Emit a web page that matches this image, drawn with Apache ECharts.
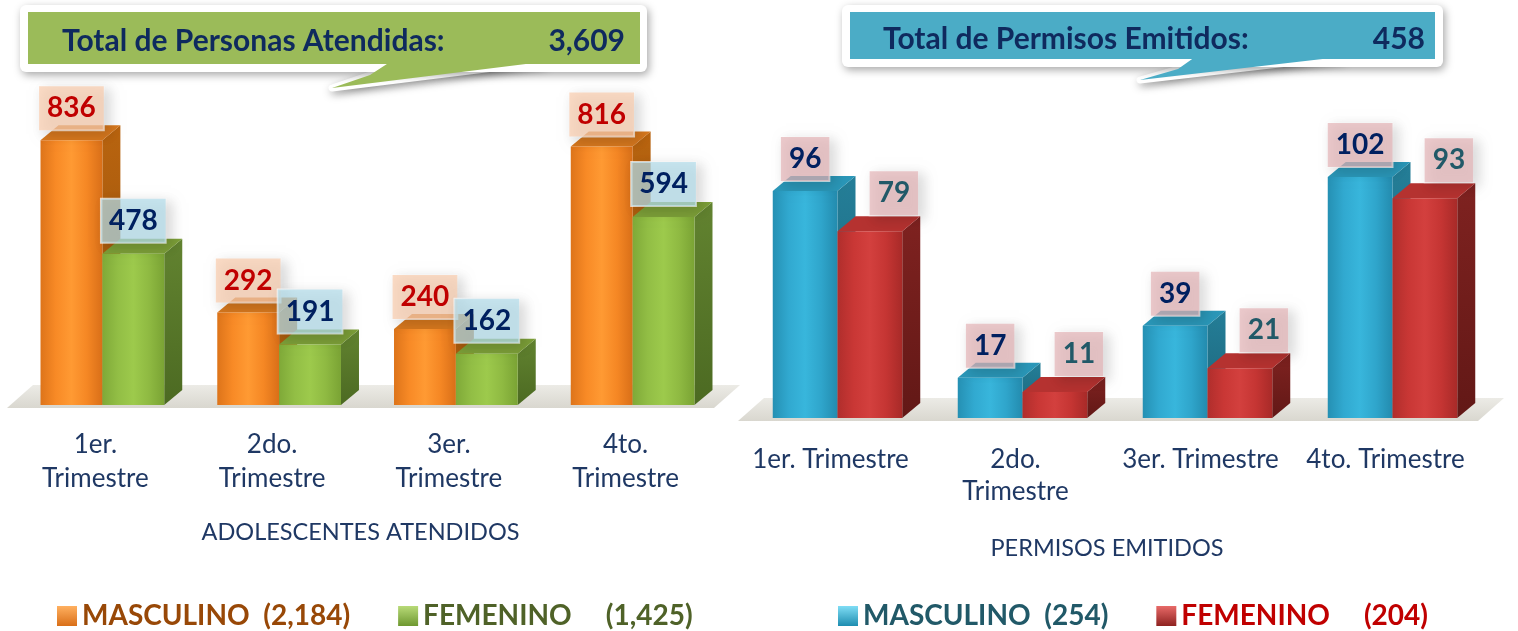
<!DOCTYPE html>
<html>
<head>
<meta charset="utf-8">
<title>Adolescentes atendidos y permisos emitidos</title>
<script src="https://cdn.jsdelivr.net/npm/echarts@6.0.0/dist/echarts.min.js"></script>
<style>
  html, body { margin: 0; padding: 0; background: #fff; }
  #chart { width: 1518px; height: 631px; }
</style>
</head>
<body>
<div id="chart"></div>
<script>
// values
const atendidosCategories = ['1er.\nTrimestre', '2do.\nTrimestre', '3er.\nTrimestre', '4to.\nTrimestre']
const atendidosMasculino = [836, 292, 240, 816]
const atendidosFemenino = [478, 191, 162, 594]

const permisosCategories = ['1er. Trimestre', '2do.\nTrimestre', '3er. Trimestre', '4to. Trimestre']
const permisosMasculino = [96, 17, 39, 102]
const permisosFemenino = [79, 11, 21, 93]

const sum = (arr) => arr.reduce((a, b) => a + b, 0)
const fmt = (n) => n.toLocaleString('en-US')

const FONT = 'Lato, "Noto Sans", sans-serif'
const NAVY = '#0F2A5E'
const DX = 18
const DY = 15
const BAR_RATIO = 0.35

const grad = (x2, y2, stops) =>
  new echarts.graphic.LinearGradient(0, 0, x2, y2, stops.map((c, i) => ({ offset: i / (stops.length - 1), color: c })))

const looks = {
  naranja: {
    front: ['#DD741A', '#F88A26', '#FF9A33', '#F58724', '#D96F18'],
    side: ['#B9640F', '#94500C'],
    top: '#D7781E',
    legend: ['#FFB060', '#D96F18'],
    labelBg: 'rgba(250,205,175,0.72)',
    labelColor: '#C00000',
    labelDx: 0,
    labelLift: 10
  },
  verde: {
    front: ['#7FA938', '#92BE45', '#9DCA4C', '#8FBA42', '#7AA334'],
    side: ['#628330', '#4C6A22'],
    top: '#7C9F38',
    legend: ['#B8DA78', '#6E9830'],
    labelBg: 'rgba(180,222,235,0.72)',
    labelColor: '#002060',
    labelDx: 0,
    labelLift: 11
  },
  azul: {
    front: ['#2590B3', '#31A9D0', '#38B6DC', '#2FA5CB', '#238BAE'],
    side: ['#247E98', '#1C6479'],
    top: '#2A97B8',
    legend: ['#7FDDF5', '#1E8DB0'],
    labelBg: 'rgba(228,180,182,0.7)',
    labelColor: '#002060',
    labelDx: 0,
    labelLift: 10
  },
  rojo: {
    front: ['#B02E2C', '#C93735', '#D3403E', '#C53533', '#A82A28'],
    side: ['#7F2220', '#621816'],
    top: '#B53230',
    legend: ['#E86A68', '#8E2220'],
    labelBg: 'rgba(228,180,182,0.7)',
    labelColor: '#215968',
    labelDx: 24,
    labelLift: 16
  }
}

// draws one 3D box per data item; side 0 sits left of the category centre, side 1 right
const box3d = (side, look) => (params, api) => {
  const idx = api.value(0)
  const val = api.value(1)
  const base = api.coord([idx, 0])
  const top = api.coord([idx, val])
  const w = api.size([1, 0])[0] * BAR_RATIO
  const x0 = side === 0 ? base[0] - w : base[0]
  const x1 = x0 + w
  const yb = base[1]
  const yt = top[1]
  return {
    type: 'group',
    children: [
      {
        type: 'polygon',
        shape: { points: [[x1, yt], [x1 + DX, yt - DY], [x1 + DX, yb - DY], [x1, yb]] },
        style: { fill: grad(0, 1, look.side) }
      },
      {
        type: 'polygon',
        shape: { points: [[x0, yt], [x0 + DX, yt - DY], [x1 + DX, yt - DY], [x1, yt]] },
        style: { fill: look.top }
      },
      {
        type: 'rect',
        shape: { x: x0, y: yt, width: w, height: yb - yt },
        style: { fill: grad(1, 0, look.front) }
      },
      {
        type: 'text',
        z2: 50,
        x: (x0 + x1) / 2 + look.labelDx,
        y: yt - look.labelLift,
        style: {
          text: String(val),
          font: 'bold 28px ' + FONT,
          fill: look.labelColor,
          align: 'center',
          verticalAlign: 'bottom',
          lineHeight: 30,
          backgroundColor: look.labelBg,
          padding: [7, 8, 7, 8],
          borderColor: 'rgba(255,255,255,0.75)',
          borderWidth: 1,
          shadowBlur: 12,
          shadowColor: 'rgba(0,0,0,0.2)',
          shadowOffsetX: 5,
          shadowOffsetY: 4
        }
      }
    ]
  }
}

// grey slab under the bars
const floor = (params) => {
  const cs = params.coordSys
  const yb = cs.y + cs.height + 3
  const xl = cs.x - 7
  const xr = cs.x + cs.width - 7
  return {
    type: 'polygon',
    shape: { points: [[xl, yb], [xl + 26, yb - 23], [xr + 26, yb - 23], [xr, yb]] },
    style: { fill: grad(0, 1, ['#ECEBE6', '#D9D7CF']) }
  }
}

const barSeries = (name, values, axis, side, look) => ({
  name,
  type: 'custom',
  xAxisIndex: axis,
  yAxisIndex: axis,
  z: 3,
  itemStyle: { color: grad(0, 1, look.legend) },
  renderItem: box3d(side, look),
  data: values.map((v, i) => [i, v])
})

const floorSeries = (axis) => ({
  type: 'custom',
  xAxisIndex: axis,
  yAxisIndex: axis,
  z: 1,
  silent: true,
  renderItem: floor,
  data: [[0, 0]]
})

const nameAtM = 'MASCULINO  (' + fmt(sum(atendidosMasculino)) + ')'
const nameAtF = 'FEMENINO     (' + fmt(sum(atendidosFemenino)) + ')'
const namePeM = 'MASCULINO  (' + fmt(sum(permisosMasculino)) + ')'
const namePeF = 'FEMENINO     (' + fmt(sum(permisosFemenino)) + ')'

const callout = (c) => ({
  type: 'group',
  children: [
    {
      type: 'polygon',
      shape: { points: c.tail },
      style: {
        fill: '#fff', stroke: '#fff', lineWidth: 7, lineJoin: 'round',
        shadowBlur: 8, shadowColor: 'rgba(0,0,0,0.35)', shadowOffsetX: 2, shadowOffsetY: 3
      }
    },
    {
      type: 'rect',
      shape: { x: c.box[0], y: c.box[1], width: c.box[2], height: c.box[3], r: 6 },
      style: { fill: '#fff', shadowBlur: 8, shadowColor: 'rgba(0,0,0,0.35)', shadowOffsetX: 2, shadowOffsetY: 3 }
    },
    {
      type: 'rect',
      shape: { x: c.inner[0], y: c.inner[1], width: c.inner[2], height: c.inner[3] },
      style: { fill: c.fill }
    },
    { type: 'polygon', shape: { points: c.tail }, style: { fill: c.fill } },
    {
      type: 'text', x: c.textLeft, y: c.textY,
      style: { text: c.title, font: 'bold 30px ' + FONT, fill: NAVY, verticalAlign: 'middle' }
    },
    {
      type: 'text', x: c.textRight, y: c.textY,
      style: { text: c.total, font: 'bold 30px ' + FONT, fill: NAVY, align: 'right', verticalAlign: 'middle' }
    }
  ]
})

const axisLabelBase = {
  color: '#1F3864',
  fontFamily: FONT,
  fontSize: 26,
  interval: 0,
  padding: [0, 14, 0, 0]
}

const chart = echarts.init(document.getElementById('chart'))

const option = {
  backgroundColor: '#fff',
  animation: false,
  grid: [
    { left: 14, right: 797, top: 120, bottom: 226, containLabel: false, outerBoundsMode: 'none' },
    { left: 745, right: 33, top: 158, bottom: 213, containLabel: false, outerBoundsMode: 'none' }
  ],
  xAxis: [
    {
      type: 'category', gridIndex: 0, data: atendidosCategories,
      axisLine: { show: false }, axisTick: { show: false },
      axisLabel: { ...axisLabelBase, lineHeight: 34, margin: 23 },
      name: 'ADOLESCENTES ATENDIDOS', nameLocation: 'middle', nameGap: 115,
      nameTextStyle: { color: '#1F3864', fontFamily: FONT, fontSize: 23.5, padding: [0, 14, 0, 0] }
    },
    {
      type: 'category', gridIndex: 1, data: permisosCategories,
      axisLine: { show: false }, axisTick: { show: false },
      axisLabel: { ...axisLabelBase, lineHeight: 32, margin: 26 },
      name: 'PERMISOS EMITIDOS', nameLocation: 'middle', nameGap: 118,
      nameTextStyle: { color: '#1F3864', fontFamily: FONT, fontSize: 23.5, padding: [0, 16, 0, 0] }
    }
  ],
  yAxis: [
    { type: 'value', gridIndex: 0, min: 0, max: 900, show: false, splitLine: { show: false } },
    { type: 'value', gridIndex: 1, min: 0, max: 110, show: false, splitLine: { show: false } }
  ],
  legend: [
    {
      left: 52, top: 597, icon: 'rect', itemWidth: 20, itemHeight: 20, itemGap: 48,
      selectedMode: false,
      textStyle: { fontFamily: FONT, fontWeight: 'bold', fontSize: 28 },
      data: [
        { name: nameAtM, textStyle: { color: '#984807' } },
        { name: nameAtF, textStyle: { color: '#4F6228' } }
      ]
    },
    {
      left: 833, top: 597, icon: 'rect', itemWidth: 20, itemHeight: 20, itemGap: 48,
      selectedMode: false,
      textStyle: { fontFamily: FONT, fontWeight: 'bold', fontSize: 28 },
      data: [
        { name: namePeM, textStyle: { color: '#215968' } },
        { name: namePeF, textStyle: { color: '#C00000' } }
      ]
    }
  ],
  graphic: [
    callout({
      box: [20, 5, 627, 67], inner: [28, 12, 612, 52],
      tail: [[390, 62], [370, 75], [332, 88], [542, 62]],
      fill: '#9BBB59', title: 'Total de Personas Atendidas:',
      total: fmt(sum(atendidosMasculino) + sum(atendidosFemenino)),
      textLeft: 62, textRight: 625, textY: 41
    }),
    callout({
      box: [842, 5, 601, 62], inner: [850, 12, 585, 47],
      tail: [[1195, 57], [1178, 69], [1140, 80], [1340, 57]],
      fill: '#4BACC6', title: 'Total de Permisos Emitidos:',
      total: fmt(sum(permisosMasculino) + sum(permisosFemenino)),
      textLeft: 883, textRight: 1425, textY: 39
    })
  ],
  series: [
    floorSeries(0),
    barSeries(nameAtM, atendidosMasculino, 0, 0, looks.naranja),
    barSeries(nameAtF, atendidosFemenino, 0, 1, looks.verde),
    floorSeries(1),
    barSeries(namePeM, permisosMasculino, 1, 0, looks.azul),
    barSeries(namePeF, permisosFemenino, 1, 1, looks.rojo)
  ]
}

chart.setOption(option)
window.addEventListener('resize', () => chart.resize())
</script>
</body>
</html>
